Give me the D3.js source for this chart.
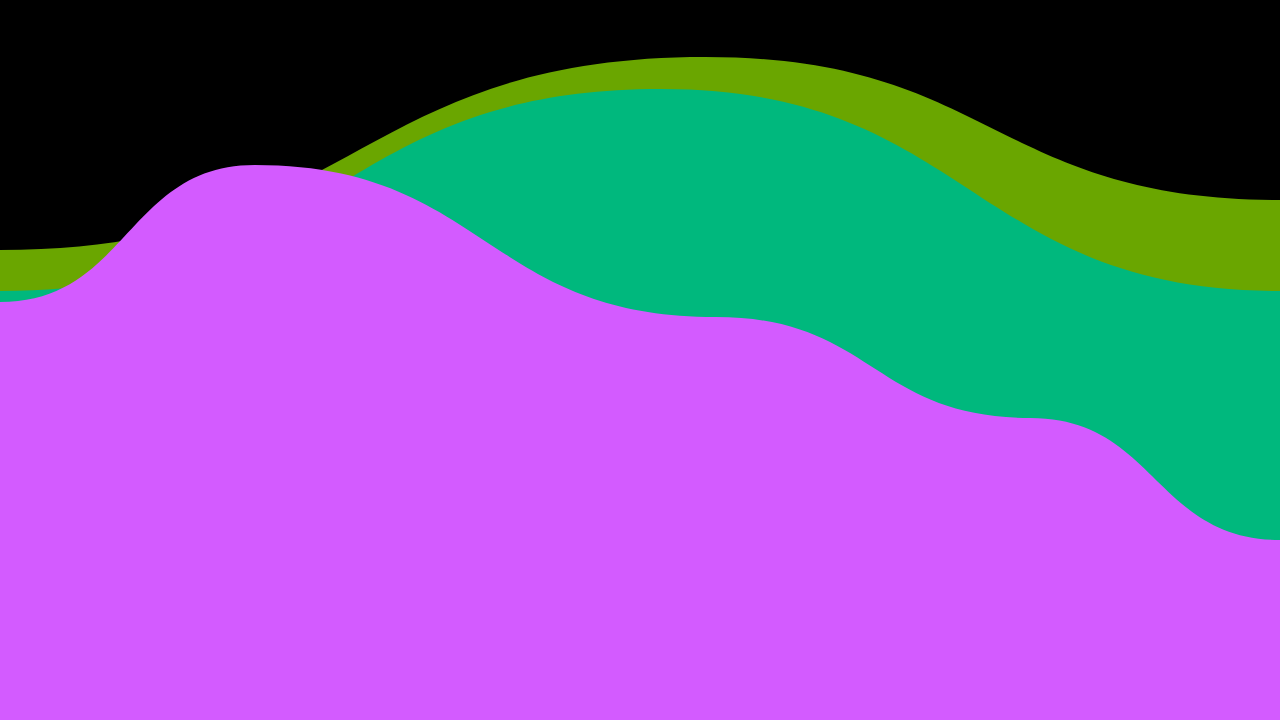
<!DOCTYPE html>
<html>
<head>
<meta charset="utf-8">
<script src="https://cdn.jsdelivr.net/npm/d3@7"></script>
<style>
  html, body { margin: 0; padding: 0; background: #000; overflow: hidden; }
</style>
</head>
<body>
<script>
// layer data: x in percent of width, value = height from the bottom
const oliveX = [0, 55.1, 100];
const oliveY = [470, 663, 520];

const tealX = [0, 51.6, 100];
const tealY = [429, 631, 429];

const purpleX = [0, 19.9, 55.9, 80.5, 100];
const purpleY = [418, 555, 403, 302, 180];

const layerColors = ["#6aa600", "#00b87d", "#d35bff"];

var width = 1280, height = 720;

var svg = d3.select("body").append("svg")
    .attr("width", width)
    .attr("height", height)
    .style("display", "block");

svg.append("rect")
    .attr("width", width)
    .attr("height", height)
    .attr("fill", "#000");

var x = d3.scaleLinear().domain([0, 100]).range([0, width]);
var y = d3.scaleLinear().domain([0, 720]).range([height, 0]);

var area = d3.area()
    .x(d => x(d[0]))
    .y0(height)
    .y1(d => y(d[1]))
    .curve(d3.curveBumpX);

var layers = [
  d3.zip(oliveX, oliveY),
  d3.zip(tealX, tealY),
  d3.zip(purpleX, purpleY)
];

svg.selectAll(".layer")
  .data(layers)
  .enter()
  .append("path")
    .attr("class", "layer")
    .attr("d", area)
    .attr("fill", (d, i) => layerColors[i]);
</script>
</body>
</html>
